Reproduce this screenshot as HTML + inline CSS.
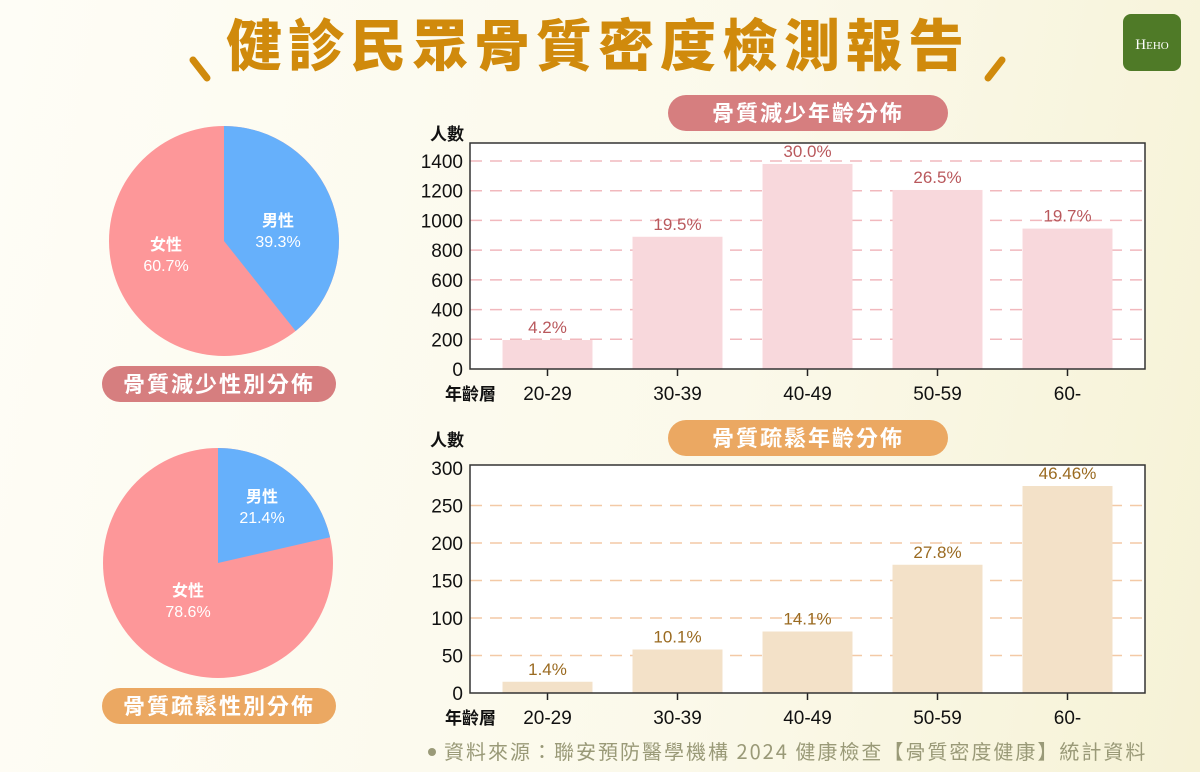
<!DOCTYPE html>
<html><head><meta charset="utf-8"><style>
body{margin:0;width:1200px;height:772px;overflow:hidden;background:linear-gradient(100deg,#fefdf6 0%,#fbf9ea 60%,#f6f2d6 100%);font-family:"Liberation Sans","Noto Sans CJK TC",sans-serif}
svg{position:absolute;left:0;top:0}
</style></head><body>
<svg width="1200" height="772" font-family="Liberation Sans, Noto Sans CJK TC, sans-serif">
<g>
<text x="598" y="66" text-anchor="middle" font-size="56" font-weight="900" fill="#d08a0c" letter-spacing="6" font-family="Noto Sans CJK TC, sans-serif">健診民眾骨質密度檢測報告</text>
<line x1="193" y1="60" x2="207" y2="78" stroke="#d08a0c" stroke-width="7" stroke-linecap="round"/>
<line x1="1002" y1="60" x2="988" y2="78" stroke="#d08a0c" stroke-width="7" stroke-linecap="round"/>
</g>
<g>
<rect x="1123" y="14" width="58" height="57" rx="8" fill="#4f7a27"/>
<text x="1152" y="49" text-anchor="middle" font-size="15" fill="#fff" font-family="Liberation Serif, serif">H<tspan font-size="11">EHO</tspan></text>
</g>
<g id="pies"></g>
<g id="charts"></g>
<circle cx="432" cy="752" r="4" fill="#9a9a78"/>
<text x="444" y="759" font-size="20" fill="#9a9a78" letter-spacing="2" font-family="Noto Sans CJK TC, sans-serif">資料來源：聯安預防醫學機構 2024 健康檢查【骨質密度健康】統計資料</text>
</svg>
<script>
const NS='http://www.w3.org/2000/svg';
const categories=['20-29','30-39','40-49','50-59','60-'];
const reducedValues=[195,890,1380,1205,945];
const reducedLabels=['4.2%','19.5%','30.0%','26.5%','19.7%'];
const reducedTicks=[0,200,400,600,800,1000,1200,1400];
const porosisValues=[15,58,82,171,276];
const porosisLabels=['1.4%','10.1%','14.1%','27.8%','46.46%'];
const porosisTicks=[0,50,100,150,200,250,300];
const pie1Male=39.3, pie1Female=60.7;
const pie2Male=21.4, pie2Female=78.6;

function el(tag,attrs,parent,text){const e=document.createElementNS(NS,tag);for(const k in attrs)e.setAttribute(k,attrs[k]);if(text!==undefined)e.textContent=text;parent.appendChild(e);return e;}

function pill(parent,x,y,w,h,color,label,name){
  const g=el('g',{},parent);
  
  
  el('rect',{x:x,y:y,width:w,height:h,rx:h/2,fill:color},g);
  el('text',{x:x+w/2,y:y+h/2+8,'text-anchor':'middle','font-size':22,'font-weight':'bold',fill:'#fff','letter-spacing':2,'font-family':'Noto Sans CJK TC, sans-serif'},g,label);
}

function pie(parent,cx,cy,r,male,female,name,mLabelPos,fLabelPos){
  const g=el('g',{},parent);
  
  
  const total=male+female;
  const a=male/total*2*Math.PI;
  el('circle',{cx:cx,cy:cy,r:r,fill:'#fd9799'},g);
  const x2=cx+r*Math.sin(a),y2=cy-r*Math.cos(a);
  const s=el('path',{d:`M${cx},${cy}L${cx},${cy-r}A${r},${r} 0 ${a>Math.PI?1:0} 1 ${x2},${y2}Z`,fill:'#66b0fb'},g);
  
  
  const lab=(p,t1,t2)=>{el('text',{x:p[0],y:p[1],'text-anchor':'middle','font-size':16,'font-weight':'bold',fill:'#fff'},g,t1);el('text',{x:p[0],y:p[1]+21,'text-anchor':'middle','font-size':16,fill:'#fff'},g,t2);};
  lab(mLabelPos,'男性',male.toFixed(1)+'%');
  lab(fLabelPos,'女性',female.toFixed(1)+'%');
}

const pies=document.getElementById('pies');
pie(pies,224,241,115,pie1Male,pie1Female,'osteopenia-gender-pie',[278,226],[166,250]);
pill(pies,102,366,234,36,'#d67e7f','骨質減少性別分佈','osteopenia-gender-label');
pie(pies,218,563,115,pie2Male,pie2Female,'osteoporosis-gender-pie',[262,502],[188,596]);
pill(pies,102,688,234,36,'#eba862','骨質疏鬆性別分佈','osteoporosis-gender-label');

function bar(parent,o){
  const g=el('g',{},parent);
  
  
  const L=470,R=1145,T=o.top,B=o.zeroY;
  const y=v=>o.zeroY-(v-0)*(o.zeroY-o.maxY)/o.maxV;
  const xc=i=>547.5+i*130;
  el('rect',{x:L,y:T,width:R-L,height:B-T,fill:'#fff'},g);
  o.ticks.forEach(t=>{
    if(t>0 && y(t)>T+6){const ln=el('line',{x1:L,x2:R,y1:y(t),y2:y(t),stroke:o.grid,'stroke-width':1.5,'stroke-dasharray':'12 8'},g);
    
    }
    const tx=el('text',{x:L-7,y:y(t)+7,'text-anchor':'end','font-size':19,fill:'#111'},g,String(t));
    
    
  });
  o.values.forEach((v,i)=>{
    const r=el('rect',{x:xc(i)-45,y:y(v),width:90,height:B-y(v),fill:o.fill},g);
    
    
    const t=el('text',{x:xc(i),y:y(v)-7,'text-anchor':'middle','font-size':17,fill:o.lab},g,o.labels[i]);
    
    
    el('line',{x1:xc(i),x2:xc(i),y1:B,y2:B+7,stroke:'#222','stroke-width':1.5},g);
    const c=el('text',{x:xc(i),y:B+31,'text-anchor':'middle','font-size':19,fill:'#111'},g,categories[i]);
    
    
  });
  el('rect',{x:L,y:T,width:R-L,height:B-T,fill:'none',stroke:'#333','stroke-width':1.5},g);
  const yt=el('text',{x:430,y:o.ytY,'font-size':17,'font-weight':'bold',fill:'#111','font-family':'Noto Sans CJK TC, sans-serif'},g,'人數');
  
  
  const xt=el('text',{x:445,y:B+31,'font-size':17,'font-weight':'bold',fill:'#111','font-family':'Noto Sans CJK TC, sans-serif'},g,'年齡層');
  
  
}
const charts=document.getElementById('charts');
pill(charts,668,95,280,36,'#d67e7f','骨質減少年齡分佈','osteopenia-age-title');
bar(charts,{name:'osteopenia-age-chart',top:143,zeroY:369,maxY:161,maxV:1400,ytY:140,ticks:reducedTicks,values:reducedValues,labels:reducedLabels,fill:'#f8d8dc',grid:'#f1b8bd',lab:'#b9585c'});
pill(charts,668,420,280,36,'#eba862','骨質疏鬆年齡分佈','osteoporosis-age-title');
bar(charts,{name:'osteoporosis-age-chart',top:465,zeroY:693,maxY:468,maxV:300,ytY:446,ticks:porosisTicks,values:porosisValues,labels:porosisLabels,fill:'#f3e1c8',grid:'#f3c9a6',lab:'#9a6a20'});
</script>
</body></html>
